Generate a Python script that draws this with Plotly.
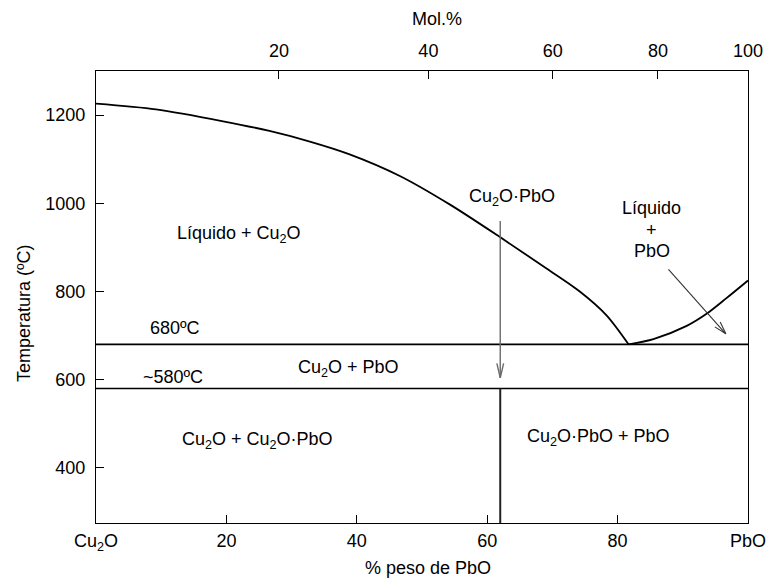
import math
import plotly.graph_objects as go

# --- Cu2O-PbO phase diagram data (composition in wt% PbO, temperature in ºC) ---
liq_cu2o_wt = [0, 9.2, 19.5, 26.6, 32.8, 38.9, 46.6, 54.3, 61.9, 69.1, 74.2, 78.3, 81.7]
liq_cu2o_T = [1226, 1213, 1186, 1164, 1140, 1111, 1062, 997, 924, 852, 800, 746, 680]
liq_pbo_wt = [81.7, 85.5, 90.6, 93.7, 96.7, 100]
liq_pbo_T = [680, 692, 722, 750, 785, 825]

eutectic_T = 680
lower_T = 580
compound_wt = 62

x_ticks = [0, 20, 40, 60, 80, 100]
x_ticktext = ["Cu<sub>2</sub>O", "20", "40", "60", "80", "PbO"]
y_ticks = [400, 600, 800, 1000, 1200]
mol_ticks = [20, 40, 60, 80, 100]

X_RANGE = [0, 100]
Y_RANGE = [275, 1300]

# molar masses used to place the mol% scale on the wt% axis
M_CU2O = 143.09
M_PBO = 223.2


def mol_to_wt(m):
    f = m / 100.0
    return 100.0 * f * M_PBO / (f * M_PBO + (1 - f) * M_CU2O)


mol_pos = [mol_to_wt(m) for m in mol_ticks]

# figure geometry
W, H = 767, 581
ML, MR, MT, MB = 96, 19, 71, 58
PW, PH = W - ML - MR, H - MT - MB
SX = PW / (X_RANGE[1] - X_RANGE[0])
SY = PH / (Y_RANGE[1] - Y_RANGE[0])

FONT = "Liberation Sans, Arial, sans-serif"
FS = 18

fig = go.Figure()

curve = dict(color="black", width=1.8, shape="spline", smoothing=0.8)
fig.add_trace(go.Scatter(x=liq_cu2o_wt, y=liq_cu2o_T, mode="lines", line=curve))
fig.add_trace(go.Scatter(x=liq_pbo_wt, y=liq_pbo_T, mode="lines", line=curve))
fig.add_trace(go.Scatter(x=X_RANGE, y=[eutectic_T, eutectic_T], mode="lines",
                         line=dict(color="black", width=1.6)))
fig.add_trace(go.Scatter(x=X_RANGE, y=[lower_T, lower_T], mode="lines",
                         line=dict(color="black", width=1.6)))
fig.add_trace(go.Scatter(x=[compound_wt, compound_wt], y=[Y_RANGE[0], lower_T], mode="lines",
                         line=dict(color="#222222", width=2)))


def arrow(tail, tip, color, width, head_len=15, half_angle=13):
    """Straight arrow with an open V head, head sized in screen pixels."""
    fig.add_trace(go.Scatter(x=[tail[0], tip[0]], y=[tail[1], tip[1]], mode="lines",
                             line=dict(color=color, width=width)))
    dx = (tail[0] - tip[0]) * SX
    dy = (tail[1] - tip[1]) * SY
    n = math.hypot(dx, dy)
    ux, uy = dx / n, dy / n
    xs, ys = [], []
    for s in (1, -1):
        a = math.radians(half_angle) * s
        rx = ux * math.cos(a) - uy * math.sin(a)
        ry = ux * math.sin(a) + uy * math.cos(a)
        xs += [tip[0] + rx * head_len / SX, tip[0], None]
        ys += [tip[1] + ry * head_len / SY, tip[1], None]
    fig.add_trace(go.Scatter(x=xs, y=ys, mode="lines", line=dict(color=color, width=width)))


arrow((62, 960), (62, 604), "#6a6a6a", 1.4)
arrow((87.8, 850), (96.6, 704), "#333333", 1.1, head_len=13, half_angle=16)

# empty trace so the top (mol%) axis is drawn
fig.add_trace(go.Scatter(x=[None], y=[None], xaxis="x2", yaxis="y", mode="lines"))

labels = [
    ("Líquido + Cu<sub>2</sub>O", 22.0, 929),
    ("Cu<sub>2</sub>O·PbO", 63.8, 1013),
    ("Líquido", 85.2, 990),
    ("+", 85.2, 940),
    ("PbO", 85.2, 891),
    ("680ºC", 12.1, 717),
    ("~580ºC", 11.8, 607),
    ("Cu<sub>2</sub>O + PbO", 38.8, 626),
    ("Cu<sub>2</sub>O + Cu<sub>2</sub>O·PbO", 24.7, 461),
    ("Cu<sub>2</sub>O·PbO + PbO", 77.0, 470),
]
text_font = dict(family=FONT, size=FS, color="black")
annotations = [
    dict(text=t, x=x, y=y, xref="x", yref="y", showarrow=False,
         xanchor="center", yanchor="middle", font=text_font)
    for t, x, y in labels
]
annotations += [
    dict(text="Temperatura (ºC)", x=(24 - ML) / PW, y=(MT + PH - 313) / PH,
         xref="paper", yref="paper", textangle=-90, showarrow=False,
         xanchor="center", yanchor="middle", font=text_font),
    dict(text="% peso de PbO", x=(428 - ML) / PW, y=(MT + PH - 568) / PH,
         xref="paper", yref="paper", showarrow=False,
         xanchor="center", yanchor="middle", font=text_font),
    dict(text="Mol.%", x=(437 - ML) / PW, y=(MT + PH - 19) / PH,
         xref="paper", yref="paper", showarrow=False,
         xanchor="center", yanchor="middle", font=text_font),
]

axis_common = dict(showgrid=False, zeroline=False, showline=True, linecolor="black",
                   linewidth=1.3, ticks="inside", ticklen=8, tickwidth=1.2, tickcolor="black",
                   automargin=False, tickfont=text_font)

fig.update_layout(
    width=W, height=H,
    margin=dict(l=ML, r=MR, t=MT, b=MB, pad=0, autoexpand=False),
    paper_bgcolor="white", plot_bgcolor="white",
    showlegend=False,
    xaxis=dict(range=X_RANGE, tickvals=x_ticks, ticktext=x_ticktext,
               ticklabelstandoff=1, **axis_common),
    xaxis2=dict(range=X_RANGE, overlaying="x", side="top", anchor="y",
                tickvals=mol_pos, ticktext=[str(m) for m in mol_ticks],
                ticklabelstandoff=6, **axis_common),
    yaxis=dict(range=Y_RANGE, tickvals=y_ticks, mirror=True,
               ticklabelstandoff=6, **axis_common),
    annotations=annotations,
)

fig.write_html("out.html")
